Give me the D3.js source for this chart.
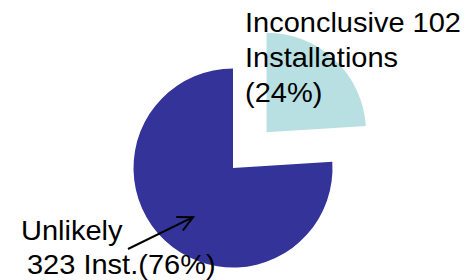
<!DOCTYPE html>
<html>
<head>
<meta charset="utf-8">
<script src="https://cdn.jsdelivr.net/npm/d3@7"></script>
<style>
  html, body { margin: 0; padding: 0; background: #fff; }
  svg { display: block; }
  text { font-family: "Liberation Sans", Arial, sans-serif; fill: #000; }
</style>
</head>
<body>
<svg id="chart" width="474" height="280"></svg>
<script>
// data
var categories = ['Inconclusive', 'Unlikely'],
    counts = [102, 323],
    colors = ['#b8dfe2', '#333399'],
    explode = [49, 0];

var labelLines = [
    ['Inconclusive 102', 'Installations', '(24%)'],
    ['Unlikely', '323 Inst.(76%)']
];

var width = 474, height = 280,
    cx = 233, cy = 168, radius = 99.5;

var svg = d3.select('#chart'),
    g = svg.append('g').attr('transform', 'translate(' + cx + ',' + cy + ')');

var slices = d3.pie().sort(null)(counts);

var arc = d3.arc().innerRadius(0).outerRadius(radius);

g.selectAll('path.slice')
    .data(slices)
    .enter().append('path')
    .attr('class', 'slice')
    .attr('fill', function(d, i) { return colors[i]; })
    .attr('transform', function(d, i) {
        var a = (d.startAngle + d.endAngle) / 2;
        return 'translate(' + (Math.sin(a) * explode[i]) + ',' + (-Math.cos(a) * explode[i]) + ')';
    })
    .attr('d', arc);

// arrow for the Unlikely label, points into the slice
var defs = svg.append('defs');
defs.append('marker')
    .attr('id', 'head')
    .attr('viewBox', '0 0 18 18')
    .attr('refX', 16).attr('refY', 9)
    .attr('markerWidth', 18).attr('markerHeight', 18)
    .attr('markerUnits', 'userSpaceOnUse')
    .attr('orient', 'auto')
    .append('path')
    .attr('d', 'M1,1.5 L16,9 L1,16.5')
    .attr('fill', 'none').attr('stroke', '#000').attr('stroke-width', 2);

var tipAngle = Math.PI * 2 * 0.6105, tipR = 64;
g.append('line')
    .attr('x1', 128 - cx).attr('y1', 249 - cy)
    .attr('x2', Math.sin(tipAngle) * tipR + 1)
    .attr('y2', -Math.cos(tipAngle) * tipR)
    .attr('stroke', '#000').attr('stroke-width', 2)
    .attr('marker-end', 'url(#head)');

var fontSize = 27.5, scaleX = 1.055;

function drawLabel(lines, x, y, lineH, indents) {
    var t = svg.append('text')
        .attr('font-size', fontSize)
        .attr('transform', 'translate(' + x + ',' + y + ') scale(' + scaleX + ',1)');
    lines.forEach(function(s, i) {
        t.append('tspan')
            .attr('x', (indents[i] || 0) / scaleX)
            .attr('y', i * lineH)
            .text(s);
    });
}

drawLabel(labelLines[0], 245, 32, 35, [0, 0, 0]);
drawLabel(labelLines[1], 21, 240, 34, [0, 6]);
</script>
</body>
</html>
